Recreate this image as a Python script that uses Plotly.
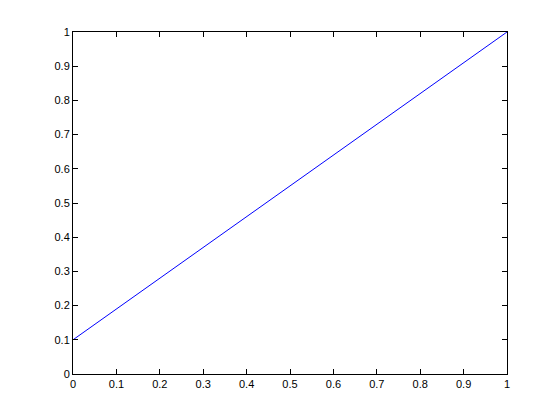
import plotly.graph_objects as go

x_vals = [0, 1]
y_vals = [0.1, 1]
tick_vals = [0, 0.1, 0.2, 0.3, 0.4, 0.5, 0.6, 0.7, 0.8, 0.9, 1]
tick_text = ['0', '0.1', '0.2', '0.3', '0.4', '0.5', '0.6', '0.7', '0.8', '0.9', '1']

fig = go.Figure(go.Scatter(x=x_vals, y=y_vals, mode='lines',
                           line=dict(color='#0000ff', width=1)))

axis_style = dict(
    range=[0, 1], tickvals=tick_vals, ticktext=tick_text,
    showgrid=False, zeroline=False, showline=True, linecolor='black',
    linewidth=1, mirror='ticks', ticks='inside', ticklen=5,
    tickcolor='black', tickfont=dict(family='Liberation Sans', size=11, color='black'),
)

fig.update_layout(
    width=560, height=420,
    margin=dict(l=65, r=61, t=24, b=54),
    paper_bgcolor='white', plot_bgcolor='white',
    xaxis=axis_style, yaxis=axis_style,
    showlegend=False,
)

fig.write_html("out.html")
